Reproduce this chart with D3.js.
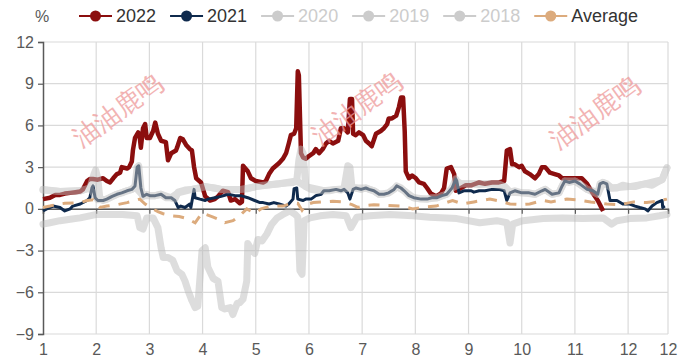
<!DOCTYPE html>
<html>
<head>
<meta charset="utf-8">
<script src="https://cdn.jsdelivr.net/npm/d3@7"></script>
<style>
  html, body { margin: 0; padding: 0; background: #fff; }
  svg { display: block; }
  text { font-family: "Liberation Sans", Arial, sans-serif; }
</style>
</head>
<body>
<svg id="chart" width="679" height="358"></svg>
<script>
// x positions are in month units: 1 = start of January, 12.75 = end of December
const tickPos = [1, 2, 3, 4, 5, 6, 7, 8, 9, 10, 11, 12, 12.75];
const tickLabels = ["1", "2", "3", "4", "5", "6", "7", "8", "9", "10", "11", "12", "12"];
const yTicks = [-9, -6, -3, 0, 3, 6, 9, 12];

const s2022 = [[1.00,0.7],[1.13,0.8],[1.23,1.0],[1.32,1.0],[1.41,1.1],[1.51,1.15],[1.61,1.2],[1.70,1.25],[1.75,1.4],[1.83,2.0],[1.88,2.15],[1.94,2.15],[2.03,2.1],[2.13,2.2],[2.20,2.0],[2.26,1.9],[2.32,2.2],[2.39,2.5],[2.45,2.6],[2.48,3.0],[2.58,2.9],[2.62,3.0],[2.67,3.4],[2.69,4.2],[2.73,5.1],[2.79,5.5],[2.82,5.1],[2.84,4.4],[2.88,5.8],[2.92,6.1],[2.95,5.1],[3.01,5.1],[3.07,5.6],[3.11,6.2],[3.16,5.4],[3.22,4.9],[3.31,4.8],[3.35,3.5],[3.41,4.0],[3.50,4.2],[3.52,4.4],[3.58,5.1],[3.63,5.0],[3.69,4.6],[3.76,4.3],[3.80,4.2],[3.84,3.0],[3.88,2.2],[3.97,1.9],[4.05,0.9],[4.14,0.6],[4.23,0.7],[4.29,0.9],[4.38,1.3],[4.48,1.2],[4.53,0.6],[4.61,0.7],[4.70,0.4],[4.74,0.5],[4.76,3.1],[4.85,2.7],[4.91,2.2],[5.00,2.0],[5.14,1.9],[5.19,2.0],[5.25,2.5],[5.32,2.9],[5.38,3.1],[5.44,3.3],[5.51,3.6],[5.57,4.0],[5.62,4.7],[5.66,5.3],[5.72,5.4],[5.76,5.8],[5.79,9.9],[5.81,9.6],[5.85,4.0],[5.89,3.7],[5.94,3.6],[6.00,3.8],[6.08,4.0],[6.13,4.3],[6.19,4.0],[6.26,4.3],[6.32,4.7],[6.38,4.9],[6.45,4.7],[6.55,4.9],[6.60,5.8],[6.66,5.8],[6.73,5.5],[6.77,7.9],[6.81,7.9],[6.83,5.4],[6.88,5.3],[6.94,5.5],[7.02,5.3],[7.07,4.9],[7.13,4.7],[7.18,4.5],[7.26,5.4],[7.35,5.6],[7.41,5.8],[7.47,6.1],[7.50,6.5],[7.56,6.5],[7.64,6.7],[7.69,7.3],[7.73,8.0],[7.77,8.0],[7.80,5.6],[7.82,2.7],[7.88,2.2],[7.94,2.4],[8.01,2.2],[8.07,1.9],[8.16,1.8],[8.22,1.5],[8.29,1.1],[8.39,0.9],[8.48,1.1],[8.54,1.5],[8.59,2.9],[8.67,3.0],[8.73,2.5],[8.76,1.3],[8.86,1.5],[8.95,1.7],[9.06,1.7],[9.20,1.9],[9.31,1.8],[9.44,1.9],[9.57,1.9],[9.67,2.0],[9.72,4.2],[9.78,4.3],[9.82,3.2],[9.87,3.2],[9.95,3.0],[10.00,3.1],[10.06,2.7],[10.15,2.5],[10.25,2.2],[10.32,2.5],[10.38,3.0],[10.44,3.0],[10.53,2.6],[10.62,2.5],[10.70,2.4],[10.76,2.2],[10.89,2.2],[11.00,2.2],[11.13,2.2],[11.23,1.8],[11.34,1.1],[11.43,0.6],[11.51,0.0],[11.53,-0.15]];

const s2021 = [[1.00,-0.15],[1.07,0.0],[1.19,0.2],[1.32,0.1],[1.41,-0.15],[1.51,0.0],[1.56,0.2],[1.70,0.35],[1.83,0.6],[1.88,0.8],[1.92,1.5],[1.94,1.65],[1.98,0.8],[2.03,0.6],[2.13,0.6],[2.20,0.7],[2.30,0.9],[2.39,1.05],[2.48,1.15],[2.58,1.3],[2.67,1.4],[2.73,1.65],[2.77,3.0],[2.80,3.1],[2.84,1.5],[2.88,0.9],[2.95,1.05],[3.01,0.95],[3.11,0.95],[3.22,1.05],[3.31,0.8],[3.41,0.8],[3.48,0.6],[3.54,0.1],[3.59,0.2],[3.67,0.1],[3.76,0.35],[3.78,0.1],[3.84,1.4],[3.86,0.8],[3.95,0.7],[4.05,0.6],[4.10,0.7],[4.23,0.8],[4.35,0.9],[4.48,1.05],[4.61,0.95],[4.72,0.95],[4.85,0.8],[4.98,0.6],[5.08,0.45],[5.14,0.45],[5.25,0.35],[5.34,0.45],[5.44,0.35],[5.57,0.2],[5.62,0.35],[5.70,0.7],[5.72,1.45],[5.77,1.5],[5.79,0.7],[5.89,0.6],[5.94,0.7],[6.04,0.7],[6.13,0.95],[6.23,1.05],[6.28,1.3],[6.38,1.3],[6.51,1.4],[6.60,1.3],[6.66,1.4],[6.73,1.15],[6.77,0.7],[6.83,1.4],[6.88,1.5],[6.98,1.4],[7.07,1.5],[7.13,1.4],[7.22,1.3],[7.32,1.05],[7.41,1.05],[7.50,1.15],[7.60,1.4],[7.65,1.65],[7.73,1.5],[7.79,1.3],[7.88,0.95],[7.97,0.8],[8.11,0.7],[8.22,0.7],[8.31,0.8],[8.41,0.8],[8.50,0.95],[8.59,1.05],[8.69,1.5],[8.76,2.15],[8.78,2.0],[8.82,1.15],[8.91,1.3],[9.05,1.3],[9.10,1.2],[9.20,1.3],[9.31,1.3],[9.44,1.4],[9.57,1.4],[9.67,1.3],[9.72,0.6],[9.78,1.15],[9.87,1.3],[10.00,1.15],[10.14,1.15],[10.25,1.05],[10.38,1.3],[10.44,1.4],[10.57,1.05],[10.70,1.15],[10.76,1.65],[10.81,2.0],[10.89,1.9],[11.00,2.0],[11.09,1.8],[11.23,1.4],[11.34,1.3],[11.43,1.05],[11.47,1.8],[11.53,1.9],[11.60,1.8],[11.66,0.6],[11.79,0.6],[11.90,0.35],[12.03,0.35],[12.13,0.2],[12.22,0.1],[12.32,0.0],[12.37,-0.15],[12.45,0.2],[12.54,0.45],[12.64,0.6],[12.65,0.1],[12.69,0.2]];

const s2020 = [[1.00,-1.1],[1.13,-1.0],[1.32,-0.85],[1.51,-0.75],[1.70,-0.65],[1.88,-0.5],[2.01,-0.4],[2.26,-0.4],[2.50,-0.4],[2.77,-0.5],[2.82,-1.35],[2.88,-1.45],[2.95,-0.65],[3.07,-0.65],[3.16,-1.35],[3.22,-2.8],[3.26,-3.5],[3.35,-3.5],[3.44,-3.7],[3.52,-4.45],[3.61,-4.7],[3.67,-5.2],[3.73,-5.9],[3.80,-6.6],[3.86,-7.1],[3.91,-7.0],[3.99,-3.0],[4.05,-2.8],[4.10,-4.2],[4.20,-5.0],[4.29,-5.2],[4.36,-7.1],[4.42,-7.2],[4.52,-7.1],[4.57,-7.6],[4.65,-6.8],[4.70,-6.75],[4.76,-6.5],[4.83,-5.2],[4.85,-2.5],[4.93,-3.0],[4.98,-3.2],[5.04,-2.2],[5.12,-2.3],[5.21,-1.8],[5.30,-1.1],[5.40,-0.65],[5.51,-0.4],[5.64,-0.15],[5.74,-0.4],[5.79,-0.6],[5.83,-4.45],[5.87,-4.7],[5.91,-0.85],[6.02,-0.65],[6.21,-0.5],[6.45,-0.4],[6.70,-0.5],[6.79,-1.35],[6.90,-0.6],[7.14,-0.5],[7.52,-0.4],[7.95,-0.5],[8.27,-0.6],[8.78,-0.7],[9.21,-1.0],[9.53,-0.85],[9.72,-1.0],[9.78,-2.45],[9.83,-1.1],[10.02,-0.85],[10.40,-0.7],[10.77,-0.65],[11.15,-0.7],[11.53,-0.65],[11.69,-1.1],[11.79,-0.85],[12.03,-0.7],[12.35,-0.65],[12.59,-0.5],[12.73,-0.4]];

const s2019 = [[1.00,1.4],[1.32,1.25],[1.70,1.3],[1.88,1.5],[1.96,2.5],[1.99,2.8],[2.03,2.2],[2.07,0.7],[2.13,0.6],[2.20,0.7],[2.30,0.9],[2.39,1.05],[2.48,1.15],[2.58,1.3],[2.67,1.4],[2.73,1.65],[2.77,3.0],[2.80,3.1],[2.84,1.5],[2.88,0.9],[2.95,1.05],[3.01,0.95],[3.11,0.95],[3.22,1.05],[3.31,0.8],[3.41,0.8],[3.48,0.7],[3.54,1.2],[3.67,1.35],[3.80,1.4],[3.95,1.5],[4.05,1.6],[4.23,1.5],[4.35,1.4],[4.48,1.35],[4.61,1.4],[4.72,1.4],[4.85,1.45],[5.00,1.6],[5.14,1.7],[5.30,1.75],[5.44,1.8],[5.57,1.85],[5.70,1.9],[5.77,2.0],[5.81,3.5],[5.85,4.3],[5.89,4.0],[5.94,1.6],[6.04,1.4],[6.19,1.3],[6.28,1.3],[6.38,1.3],[6.51,1.4],[6.60,1.35],[6.66,1.5],[6.73,3.1],[6.77,3.0],[6.81,1.5],[6.88,1.5],[6.98,1.4],[7.07,1.5],[7.13,1.4],[7.22,1.3],[7.32,1.05],[7.41,1.05],[7.50,1.15],[7.60,1.4],[7.65,1.65],[7.73,1.5],[7.79,1.3],[7.88,0.95],[7.97,0.8],[8.11,0.7],[8.22,0.7],[8.31,0.8],[8.41,0.8],[8.50,0.95],[8.59,1.05],[8.69,1.5],[8.76,2.15],[8.78,2.0],[8.86,1.8],[9.05,1.8],[9.21,1.75],[9.40,1.8],[9.57,1.8],[9.68,1.6],[9.78,1.2],[9.87,1.3],[10.00,1.15],[10.14,1.15],[10.25,1.05],[10.38,1.3],[10.44,1.4],[10.57,1.05],[10.70,1.15],[10.76,1.65],[10.81,2.0],[10.89,1.9],[11.00,2.0],[11.09,1.8],[11.23,1.4],[11.34,1.3],[11.43,1.05],[11.47,1.8],[11.53,1.9],[11.60,1.8],[11.69,1.5],[11.79,1.5],[11.90,1.7],[12.03,1.6],[12.13,1.6],[12.22,1.7],[12.32,1.8],[12.45,1.7],[12.54,1.9],[12.64,2.1],[12.69,2.6],[12.73,2.95]];

const s2018 = [[1.00,1.35],[1.32,1.25],[1.70,1.3],[1.88,1.5],[2.03,0.65],[2.20,0.7],[2.39,1.05],[2.58,1.3],[2.67,1.4],[2.73,1.6],[2.88,0.95],[3.11,0.95],[3.22,1.05],[3.41,0.8],[3.54,1.15],[3.80,1.4],[4.05,1.6],[4.35,1.4],[4.72,1.4],[5.00,1.6],[5.44,1.8],[5.77,2.0],[5.94,1.6],[6.28,1.3],[6.51,1.4],[6.88,1.5],[7.07,1.5],[7.22,1.3],[7.32,1.05],[7.50,1.15],[7.65,1.6],[7.79,1.3],[7.97,0.8],[8.22,0.7],[8.41,0.8],[8.59,1.05],[8.69,1.5],[8.86,1.8],[9.40,1.8],[9.68,1.6],[9.78,1.2],[10.00,1.15],[10.25,1.05],[10.44,1.4],[10.57,1.05],[10.70,1.15],[10.81,2.0],[11.00,2.0],[11.23,1.4],[11.43,1.05],[11.53,1.9],[11.69,1.5],[12.03,1.6],[12.32,1.8],[12.64,2.1],[12.73,2.95]];

const sAvg = [[1.00,0.1],[1.13,0.2],[1.23,0.3],[1.41,0.4],[1.70,0.45],[1.83,0.6],[1.94,0.65],[2.00,0.35],[2.07,0.1],[2.20,0.2],[2.39,0.3],[2.58,0.45],[2.73,0.6],[2.82,0.7],[2.92,0.35],[3.01,0.1],[3.16,-0.2],[3.26,-0.35],[3.42,-0.5],[3.56,-0.55],[3.71,-0.7],[3.86,-1.0],[3.99,-0.3],[4.10,-0.45],[4.20,-0.6],[4.33,-0.8],[4.42,-1.0],[4.57,-0.85],[4.70,-0.5],[4.83,0.0],[4.98,-0.3],[5.10,0.0],[5.27,0.2],[5.51,0.2],[5.64,0.35],[5.79,0.4],[5.87,-0.1],[5.94,0.3],[6.08,0.45],[6.26,0.5],[6.45,0.55],[6.64,0.5],[6.81,0.3],[6.92,0.1],[7.07,0.25],[7.22,0.3],[7.47,0.25],[7.75,0.2],[7.95,0.0],[8.20,0.15],[8.39,0.2],[8.70,0.6],[8.89,0.35],[9.10,0.5],[9.40,0.7],[9.60,0.55],[9.78,0.35],[10.00,0.3],[10.15,0.35],[10.40,0.6],[10.55,0.5],[10.85,0.7],[11.05,0.65],[11.30,0.5],[11.60,0.35],[11.85,0.3],[12.10,0.5],[12.35,0.45],[12.55,0.55],[12.73,0.7]];

const legendNames = ["2022", "2021", "2020", "2019", "2018", "Average"];
const legendColors = ["#8b0e0e", "#0f2a4d", "#cccccc", "#cccccc", "#cccccc", "#dcab7d"];
const legendText = ["#333333", "#333333", "#cccccc", "#cccccc", "#cccccc", "#333333"];
const stamp = "油油鹿鸣";

const svg = d3.select("#chart");
const x = d3.scaleLinear().domain([1, 12.75]).range([43, 668]);
const y = d3.scaleLinear().domain([-9, 12]).range([334, 42]);
const line = d3.line().x(d => x(d[0])).y(d => y(d[1]));

// grid
const grid = svg.append("g");
grid.selectAll(".h").data(yTicks).join("line")
  .attr("x1", x(1)).attr("x2", x(12.75))
  .attr("y1", d => y(d)).attr("y2", d => y(d))
  .attr("stroke", "#dadada").attr("stroke-width", 1.2);
grid.selectAll(".v").data(tickPos.slice(1)).join("line")
  .attr("x1", d => x(d)).attr("x2", d => x(d))
  .attr("y1", y(12)).attr("y2", y(-9))
  .attr("stroke", "#dadada").attr("stroke-width", 1.2);

// axes
const yAxis = svg.append("g").attr("transform", `translate(${x(1)},0)`)
  .call(d3.axisLeft(y).tickValues(yTicks).tickSize(5).tickPadding(4).tickFormat(d3.format("d")));
yAxis.select(".domain").attr("stroke", "#595959").attr("stroke-width", 1.5);
yAxis.selectAll(".tick line").attr("stroke", "#595959").attr("stroke-width", 1.2);
yAxis.selectAll("text").attr("fill", "#595959").attr("font-size", 16)
  .attr("font-family", "Liberation Sans, Arial, sans-serif");

const xAxis = svg.append("g").attr("transform", `translate(0,${y(0)})`)
  .call(d3.axisBottom(x).tickValues(tickPos).tickSize(5).tickFormat((d, i) => tickLabels[i]));
xAxis.select(".domain").attr("stroke", "#595959").attr("stroke-width", 1.5);
xAxis.selectAll(".tick line").attr("stroke", "#595959").attr("stroke-width", 1.2);
xAxis.selectAll("text").attr("fill", "#595959").attr("font-size", 16)
  .attr("font-family", "Liberation Sans, Arial, sans-serif")
  .attr("y", y(-9) - y(0) + 10).attr("dy", "0.71em");

// series
const plot = svg.append("g");
plot.append("path").datum(s2022).attr("d", line).attr("fill", "none")
  .attr("stroke", "#8b0e0e").attr("stroke-width", 4.5).attr("stroke-linejoin", "round");
plot.append("path").datum(s2021).attr("d", line).attr("fill", "none")
  .attr("stroke", "#0f2a4d").attr("stroke-width", 3).attr("stroke-linejoin", "round");

// earlier years share one translucent layer
const past = plot.append("g").attr("opacity", 0.5);
[s2020, s2019, s2018].forEach(s => {
  past.append("path").datum(s).attr("d", line).attr("fill", "none")
    .attr("stroke", "#bcbcbc").attr("stroke-width", 7)
    .attr("stroke-linejoin", "round").attr("stroke-linecap", "round");
});

plot.append("path").datum(sAvg).attr("d", line).attr("fill", "none")
  .attr("stroke", "#dcab7d").attr("stroke-width", 3).attr("stroke-dasharray", "11,9");

// unit label
svg.append("text").attr("x", 42).attr("y", 16).attr("dy", "0.35em")
  .attr("text-anchor", "middle").attr("font-size", 16).attr("fill", "#595959").text("%");

// legend
const legend = svg.append("g");
let lx = 79;
legendNames.forEach((name, i) => {
  const g = legend.append("g").attr("transform", `translate(${lx},16)`);
  g.append("line").attr("x1", 0).attr("x2", 33).attr("y1", 0).attr("y2", 0)
    .attr("stroke", legendColors[i]).attr("stroke-width", 2);
  g.append("circle").attr("cx", 16.5).attr("cy", 0).attr("r", 5.5).attr("fill", legendColors[i]);
  const t = g.append("text").attr("x", 37).attr("dy", "0.35em").attr("font-size", 18)
    .attr("fill", legendText[i]).text(name);
  lx += 37 + t.node().getComputedTextLength() + 14;
});

// watermark
[[118, 110], [357, 108], [595, 112]].forEach(([cx, cy]) => {
  svg.append("text").attr("transform", `translate(${cx},${cy}) rotate(-36)`)
    .attr("text-anchor", "middle").attr("dy", "0.35em")
    .attr("font-family", "Noto Sans CJK SC, sans-serif").attr("font-size", 26)
    .attr("fill", "#ee9a9a").attr("opacity", 0.75).text(stamp);
});
</script>
</body>
</html>
